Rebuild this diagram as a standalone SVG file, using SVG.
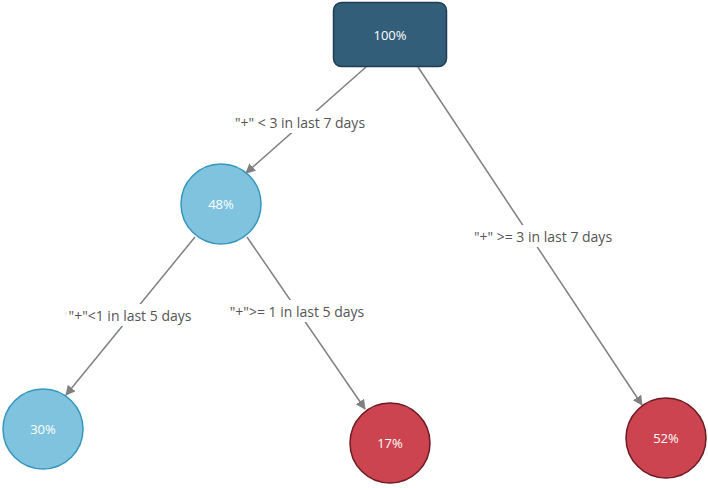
<svg xmlns="http://www.w3.org/2000/svg" width="708" height="488" viewBox="0 0 708 488">
<style>
text{font-family:"Open Sans","Noto Sans",sans-serif;font-size:14px;text-anchor:middle;dominant-baseline:central}
.n{fill:#fff;font-size:13px}
.l{fill:#555}
.blue{fill:#80c3de;stroke:#3596bd;stroke-width:1.5}
.red{fill:#cc4450;stroke:#6e1a22;stroke-width:1.5}
.e{stroke:#808080;stroke-width:1.5;fill:none;marker-end:url(#a)}
.bg{fill:#fff}
</style>
<defs><marker id="a" markerWidth="10" markerHeight="10" refX="9" refY="5" orient="auto" markerUnits="userSpaceOnUse"><path d="M0,0 L10,5 L0,10 Z" fill="#808080"/></marker></defs>
<rect width="708" height="488" fill="#fff"/>
<g id="edges">
<line class="e" x1="366" y1="67" x2="246" y2="173"/>
<line class="e" x1="418" y1="67" x2="642" y2="405"/>
<line class="e" x1="195" y1="237" x2="66" y2="395"/>
<line class="e" x1="247" y1="237" x2="365" y2="409"/>
<rect class="bg" x="228" y="111" width="145" height="22"/>
<text class="l" x="300" y="122">"+" &lt; 3 in last 7 days</text>
<rect class="bg" x="455" y="225" width="180" height="22"/>
<text class="l" x="543" y="236">"+" &gt;= 3 in last 7 days</text>
<rect class="bg" x="60" y="304" width="140" height="22"/>
<text class="l" x="130" y="315">"+"&lt;1 in last 5 days</text>
<rect class="bg" x="222" y="300" width="150" height="22"/>
<text class="l" x="297" y="311">"+"&gt;= 1 in last 5 days</text>
</g>
<g id="root"><rect x="333.500" y="2.500" width="113" height="64" rx="8" fill="#335e7a" stroke="#1e3f56" stroke-width="1.5"/><text class="n" x="390" y="35">100%</text></g>
<g id="n48"><circle class="blue" cx="221" cy="204" r="40"/><text class="n" x="221" y="204">48%</text></g>
<g id="n30"><circle class="blue" cx="43" cy="429" r="40"/><text class="n" x="43" y="429">30%</text></g>
<g id="n17"><circle class="red" cx="390" cy="443" r="40"/><text class="n" x="390" y="443">17%</text></g>
<g id="n52"><circle class="red" cx="666" cy="438" r="40"/><text class="n" x="666" y="438">52%</text></g>
</svg>
